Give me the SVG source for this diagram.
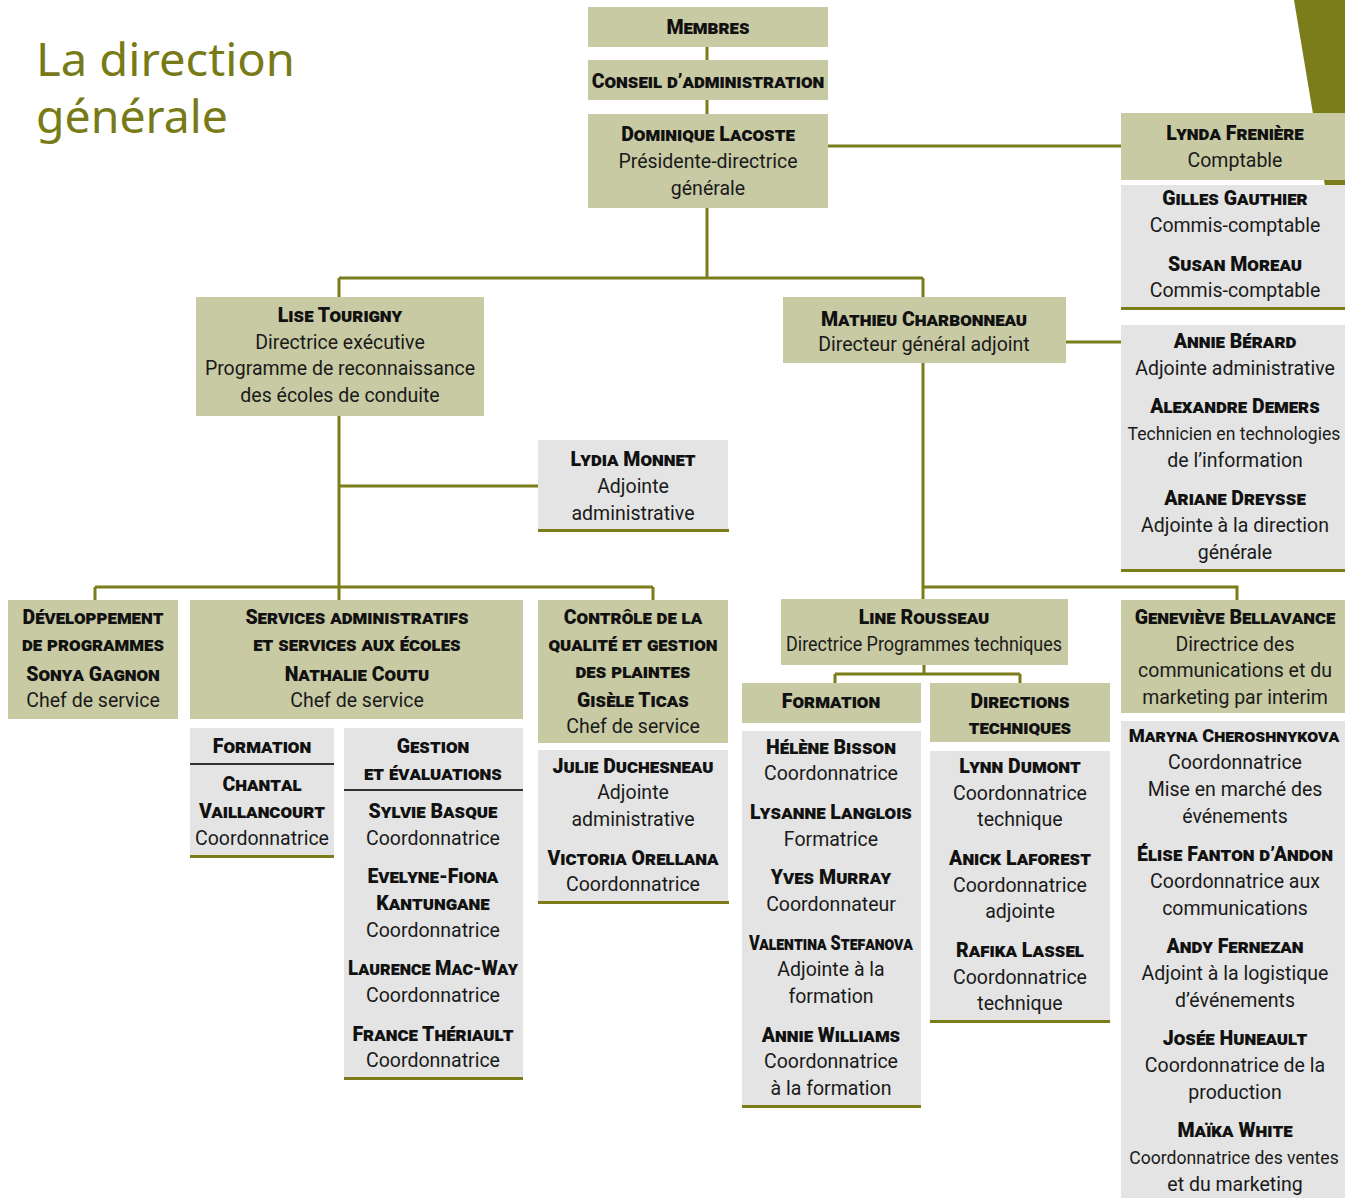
<svg xmlns="http://www.w3.org/2000/svg" width="1345" height="1198" viewBox="0 0 1345 1198">
<style>
text{font-family:"Roboto","Noto Sans",sans-serif;fill:#1a1a1a;text-anchor:middle}
.n{font-size:19.5px;font-weight:900;font-variant:small-caps;fill:#111}
.r{font-size:19.5px}
.s{font-size:17.6px}
.t{font-family:"Noto Sans","Open Sans",sans-serif;font-size:46px;fill:#777a16;text-anchor:start}
.o{fill:#c8caa3}
.g{fill:#e3e4e3}
.b{fill:#7b7d1a}
.c{fill:none;stroke:#7b7d1a;stroke-width:3}
.d{stroke:#333;stroke-width:2}
</style>
<rect width="1345" height="1198" fill="#fff"/>
<polygon points="1294,0 1345,0 1345,186 1325,186" class="b"/>
<g id="title">
<text class="t" x="36" y="76" textLength="259" lengthAdjust="spacingAndGlyphs">La direction</text>
<text class="t" x="36" y="133" textLength="192" lengthAdjust="spacingAndGlyphs">générale</text>
</g>
<g id="connectors">
<path class="c" d="M707,47V60M707,100V114M707,208V278M339,278H923M339,278V297M923,278V297M828,146H1121M1066,342H1121"/>
<path class="c" d="M339,416V600M339,486H538M95,587H653M95,587V600M653,587V600"/>
<path class="c" d="M923,363V599M923,587H1237V600M924,665V674M835,674H1020M835,674V683M1020,674V683"/>
</g>
<g id="membres"><rect class="o" x="588" y="7" width="240" height="40"/><text class="n" x="708" y="34">Membres</text></g>
<g id="conseil"><rect class="o" x="588" y="60" width="240" height="40"/><text class="n" x="708" y="88">Conseil d’administration</text></g>
<g id="lacoste"><rect class="o" x="588" y="114" width="240" height="94"/>
<text class="n" x="708" y="141">Dominique Lacoste</text><text class="r" x="708" y="168">Présidente-directrice</text><text class="r" x="708" y="195">générale</text></g>
<g id="freniere"><rect class="o" x="1121" y="113" width="224" height="67"/>
<text class="n" x="1235" y="140">Lynda Frenière</text><text class="r" x="1235" y="167">Comptable</text></g>
<g id="comptabilite"><rect class="g" x="1121" y="185" width="224" height="123"/><rect class="b" x="1121" y="307" width="224" height="3"/>
<text class="n" x="1235" y="205">Gilles Gauthier</text><text class="r" x="1235" y="232">Commis-comptable</text>
<text class="n" x="1235" y="271">Susan Moreau</text><text class="r" x="1235" y="297">Commis-comptable</text></g>
<g id="tourigny"><rect class="o" x="196" y="297" width="288" height="119"/>
<text class="n" x="340" y="322">Lise Tourigny</text><text class="r" x="340" y="349">Directrice exécutive</text><text class="r" x="340" y="375">Programme de reconnaissance</text><text class="r" x="340" y="402">des écoles de conduite</text></g>
<g id="charbonneau"><rect class="o" x="783" y="297" width="283" height="66"/>
<text class="n" x="924" y="326">Mathieu Charbonneau</text><text class="r" x="924" y="351">Directeur général adjoint</text></g>
<g id="adjoints-dg"><rect class="g" x="1121" y="325" width="224" height="245"/><rect class="b" x="1121" y="569" width="224" height="3"/>
<text class="n" x="1235" y="348">Annie Bérard</text><text class="r" x="1235" y="375">Adjointe administrative</text>
<text class="n" x="1235" y="413">Alexandre Demers</text><text class="s" x="1234" y="440">Technicien en technologies</text><text class="r" x="1235" y="467">de l’information</text>
<text class="n" x="1235" y="505">Ariane Dreysse</text><text class="r" x="1235" y="532">Adjointe à la direction</text><text class="r" x="1235" y="559">générale</text></g>
<g id="monnet"><rect class="g" x="538" y="440" width="190" height="90"/><rect class="b" x="538" y="529" width="191" height="3"/>
<text class="n" x="633" y="466">Lydia Monnet</text><text class="r" x="633" y="493">Adjointe</text><text class="r" x="633" y="520">administrative</text></g>
<g id="developpement"><rect class="o" x="8" y="600" width="170" height="119"/>
<text class="n" x="93" y="624">Développement</text><text class="n" x="93" y="651">de programmes</text><text class="n" x="93" y="681">Sonya Gagnon</text><text class="r" x="93" y="707">Chef de service</text></g>
<g id="services"><rect class="o" x="190" y="600" width="333" height="119"/>
<text class="n" x="357" y="624">Services administratifs</text><text class="n" x="357" y="651">et services aux écoles</text><text class="n" x="357" y="681">Nathalie Coutu</text><text class="r" x="357" y="707">Chef de service</text></g>
<g id="controle"><rect class="o" x="538" y="600" width="190" height="143"/>
<text class="n" x="633" y="624">Contrôle de la</text><text class="n" x="633" y="651">qualité et gestion</text><text class="n" x="633" y="678">des plaintes</text><text class="n" x="633" y="707">Gisèle Ticas</text><text class="r" x="633" y="733">Chef de service</text></g>
<g id="formation-sa"><rect class="g" x="190" y="728" width="144" height="128"/><line class="d" x1="190" y1="764" x2="334" y2="764"/><rect class="b" x="190" y="855" width="144" height="3"/>
<text class="n" x="262" y="753">Formation</text><text class="n" x="262" y="791">Chantal</text><text class="n" x="262" y="818">Vaillancourt</text><text class="r" x="262" y="845">Coordonnatrice</text></g>
<g id="gestion"><rect class="g" x="344" y="728" width="179" height="350"/><line class="d" x1="344" y1="790" x2="523" y2="790"/><rect class="b" x="344" y="1077" width="179" height="3"/>
<text class="n" x="433" y="753">Gestion</text><text class="n" x="433" y="780">et évaluations</text>
<text class="n" x="433" y="818">Sylvie Basque</text><text class="r" x="433" y="845">Coordonnatrice</text>
<text class="n" x="433" y="883">Evelyne-Fiona</text><text class="n" x="433" y="910">Kantungane</text><text class="r" x="433" y="937">Coordonnatrice</text>
<text class="n" x="433" y="975" textLength="170" lengthAdjust="spacingAndGlyphs">Laurence Mac-Way</text><text class="r" x="433" y="1002">Coordonnatrice</text>
<text class="n" x="433" y="1041">France Thériault</text><text class="r" x="433" y="1067">Coordonnatrice</text></g>
<g id="plaintes"><rect class="g" x="538" y="750" width="190" height="152"/><rect class="b" x="538" y="901" width="191" height="3"/>
<text class="n" x="633" y="773">Julie Duchesneau</text><text class="r" x="633" y="799">Adjointe</text><text class="r" x="633" y="826">administrative</text>
<text class="n" x="633" y="865">Victoria Orellana</text><text class="r" x="633" y="891">Coordonnatrice</text></g>
<g id="rousseau"><rect class="o" x="781" y="599" width="287" height="66"/>
<text class="n" x="924" y="624">Line Rousseau</text><text class="r" x="924" y="651" textLength="276" lengthAdjust="spacingAndGlyphs">Directrice Programmes techniques</text></g>
<g id="formation-pt"><rect class="o" x="742" y="683" width="179" height="40"/><text class="n" x="831" y="708">Formation</text></g>
<g id="directions"><rect class="o" x="930" y="683" width="180" height="59"/><text class="n" x="1020" y="708">Directions</text><text class="n" x="1020" y="734">techniques</text></g>
<g id="equipe-formation"><rect class="g" x="742" y="731" width="179" height="375"/><rect class="b" x="742" y="1105" width="179" height="3"/>
<text class="n" x="831" y="754">Hélène Bisson</text><text class="r" x="831" y="780">Coordonnatrice</text>
<text class="n" x="831" y="819">Lysanne Langlois</text><text class="r" x="831" y="846">Formatrice</text>
<text class="n" x="831" y="884">Yves Murray</text><text class="r" x="831" y="911">Coordonnateur</text>
<text class="n" x="831" y="950" textLength="164" lengthAdjust="spacingAndGlyphs">Valentina Stefanova</text><text class="r" x="831" y="976">Adjointe à la</text><text class="r" x="831" y="1003">formation</text>
<text class="n" x="831" y="1042">Annie Williams</text><text class="r" x="831" y="1068">Coordonnatrice</text><text class="r" x="831" y="1095">à la formation</text></g>
<g id="equipe-directions"><rect class="g" x="930" y="751" width="180" height="270"/><rect class="b" x="930" y="1020" width="180" height="3"/>
<text class="n" x="1020" y="773">Lynn Dumont</text><text class="r" x="1020" y="800">Coordonnatrice</text><text class="r" x="1020" y="826">technique</text>
<text class="n" x="1020" y="865">Anick Laforest</text><text class="r" x="1020" y="892">Coordonnatrice</text><text class="r" x="1020" y="918">adjointe</text>
<text class="n" x="1020" y="957">Rafika Lassel</text><text class="r" x="1020" y="984">Coordonnatrice</text><text class="r" x="1020" y="1010">technique</text></g>
<g id="bellavance"><rect class="o" x="1121" y="600" width="224" height="113"/>
<text class="n" x="1235" y="624">Geneviève Bellavance</text><text class="r" x="1235" y="651">Directrice des</text><text class="r" x="1235" y="677">communications et du</text><text class="r" x="1235" y="704">marketing par interim</text></g>
<g id="equipe-communications"><rect class="g" x="1121" y="721" width="224" height="477"/>
<text class="n" x="1234" y="742" style="font-size:18.3px">Maryna Cheroshnykova</text><text class="r" x="1235" y="769">Coordonnatrice</text><text class="r" x="1235" y="796">Mise en marché des</text><text class="r" x="1235" y="823">événements</text>
<text class="n" x="1235" y="861">Élise Fanton d’Andon</text><text class="r" x="1235" y="888">Coordonnatrice aux</text><text class="r" x="1235" y="915">communications</text>
<text class="n" x="1235" y="953">Andy Fernezan</text><text class="r" x="1235" y="980">Adjoint à la logistique</text><text class="r" x="1235" y="1007">d’événements</text>
<text class="n" x="1235" y="1045">Josée Huneault</text><text class="r" x="1235" y="1072">Coordonnatrice de la</text><text class="r" x="1235" y="1099">production</text>
<text class="n" x="1235" y="1137">Maïka White</text><text class="s" x="1234" y="1164">Coordonnatrice des ventes</text><text class="r" x="1235" y="1191">et du marketing</text></g>
</svg>
